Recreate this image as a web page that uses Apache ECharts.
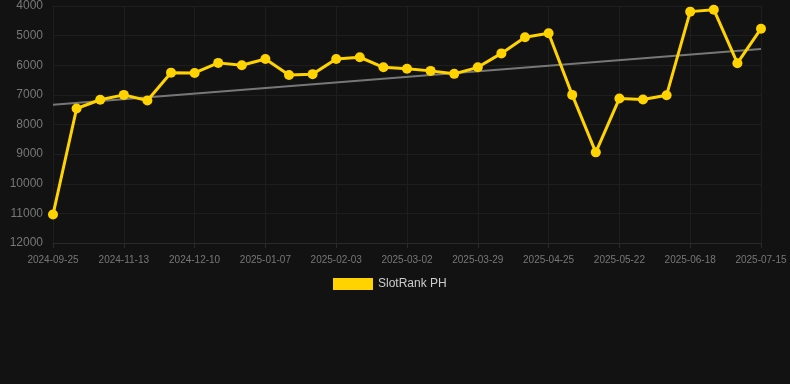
<!DOCTYPE html>
<html><head><meta charset="utf-8">
<script src="https://cdn.jsdelivr.net/npm/echarts@6/dist/echarts.min.js"></script>
<style>html,body{margin:0;padding:0;background:#121212;}#c{width:790px;height:384px;}</style>
</head><body><div id="c"></div>
<script>
const categories = ['2024-09-25','2024-10-11','2024-10-28','2024-11-13','2024-11-22','2024-12-01','2024-12-10','2024-12-19','2024-12-28','2025-01-07','2025-01-16','2025-01-25','2025-02-03','2025-02-12','2025-02-21','2025-03-02','2025-03-11','2025-03-20','2025-03-29','2025-04-07','2025-04-16','2025-04-25','2025-05-04','2025-05-13','2025-05-22','2025-05-31','2025-06-09','2025-06-18','2025-06-27','2025-07-06','2025-07-15'];
const rankValues = [11040,7460,7165,7000,7190,6250,6260,5920,6000,5790,6330,6300,5790,5730,6070,6120,6190,6290,6070,5600,5055,4920,7000,8940,7120,7155,7010,4190,4125,5930,4765];
const trendStart = 7335;
const trendEnd = 5450;
const yTicks = {min:4000, max:12000, interval:1000};

const trendData = categories.map((c,i)=> i===0 ? trendStart : (i===categories.length-1 ? trendEnd : null));

const chart = echarts.init(document.getElementById('c'));
chart.setOption({
  backgroundColor:'#121212',
  animation:false,
  textStyle:{fontFamily:'Liberation Sans, Arial, sans-serif'},
  grid:{left:53,right:29,top:6,bottom:141,containLabel:false},
  legend:{
    data:[{name:'SlotRank PH',icon:'rect'}],
    top:273,left:328,itemWidth:40,itemHeight:12,itemGap:10,
    textStyle:{color:'#cccccc',fontSize:12}
  },
  xAxis:{
    type:'category',data:categories,boundaryGap:false,
    axisLine:{lineStyle:{color:'#2a2a2a'}},
    axisTick:{show:true,interval:2,lineStyle:{color:'#2a2a2a'}},
    axisLabel:{interval:2,color:'#777',fontSize:10,margin:12},
    splitLine:{show:true,interval:2,lineStyle:{color:'#1e1e1e'}}
  },
  yAxis:{
    type:'value',inverse:true,min:yTicks.min,max:yTicks.max,interval:yTicks.interval,
    axisLine:{show:false},axisTick:{show:false},
    axisLabel:{color:'#777',fontSize:12,margin:10,formatter:function(v){return String(v);}},
    splitLine:{lineStyle:{color:'#1e1e1e'}}
  },
  series:[
    {name:'SlotRank PH',type:'line',data:rankValues,
     itemStyle:{color:'#FFD300'},lineStyle:{color:'#FFD300',width:3},
     symbol:'circle',symbolSize:10,z:3},
    {name:'trend',type:'line',data:trendData,connectNulls:true,
     symbol:'none',lineStyle:{color:'#777',width:2},itemStyle:{color:'#777'},z:2}
  ]
});
</script></body></html>
